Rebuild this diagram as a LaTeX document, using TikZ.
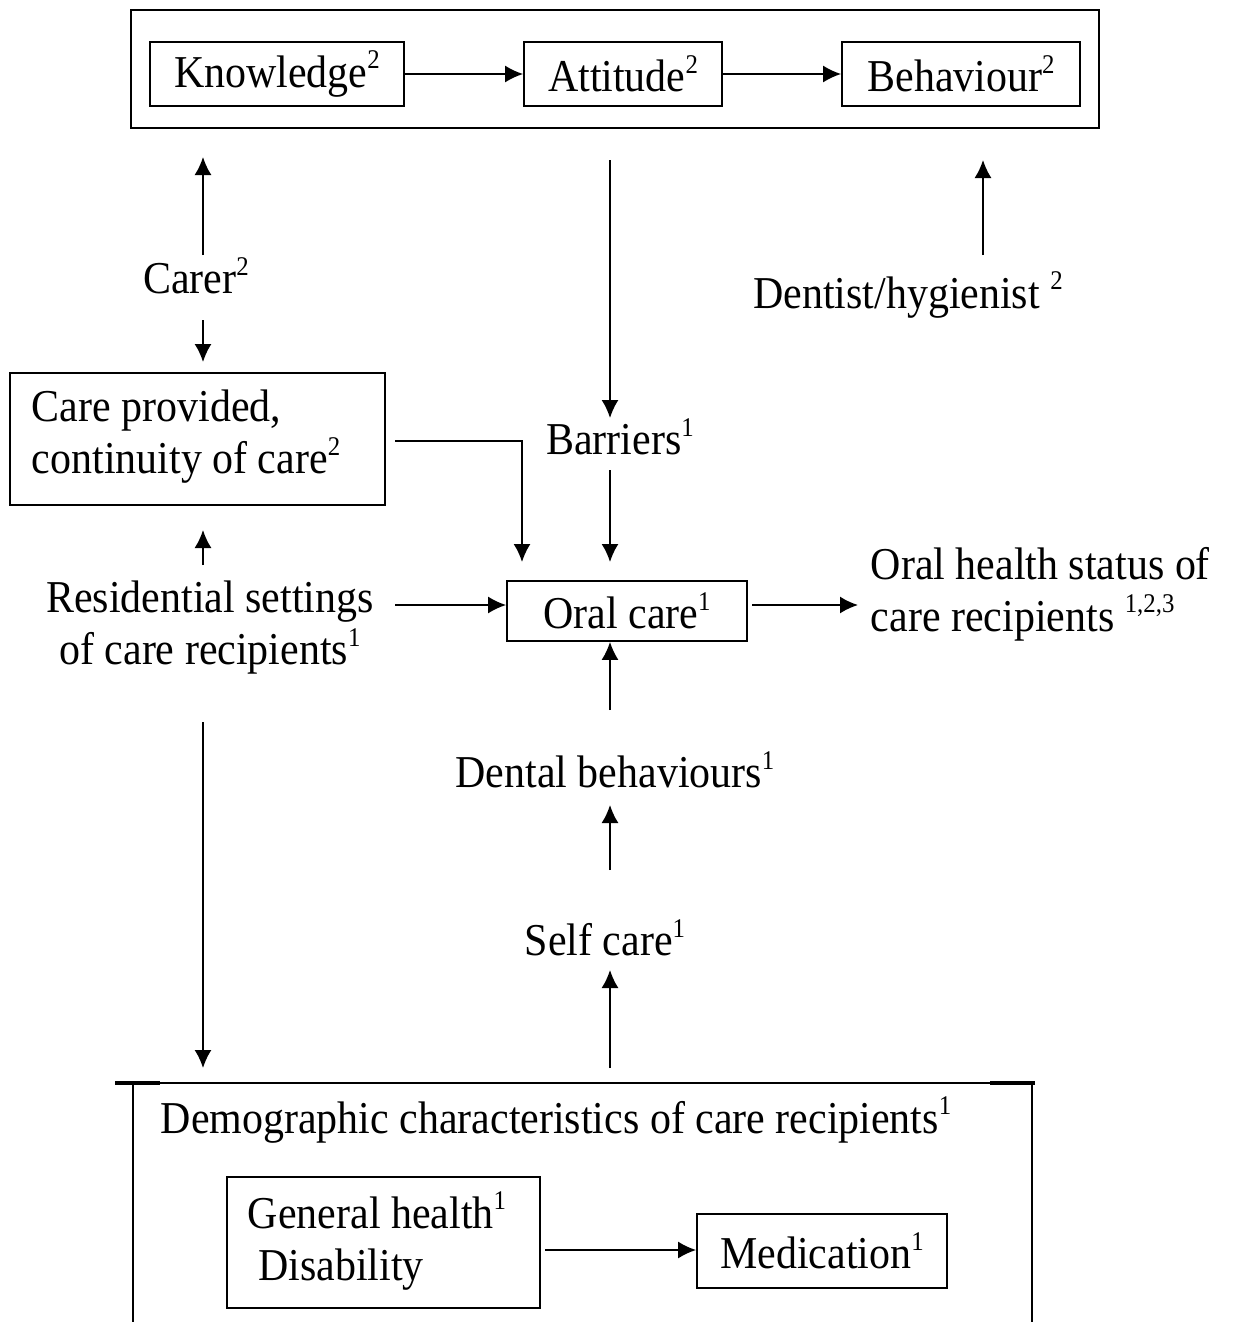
\documentclass[tikz,border=0pt]{standalone}
\usepackage{fontspec}
\setmainfont{Liberation Serif}[FakeStretch=0.92]
\usetikzlibrary{arrows.meta,calc}
\newcommand{\sx}[1]{\raisebox{0.4em}{\fontsize{13.5}{13.5}\selectfont #1}}
\begin{document}
\begin{tikzpicture}[x=0.5pt,y=-0.5pt,
  line width=0.9pt,
  txt/.style={font=\fontsize{22.8}{26}\selectfont, inner sep=0pt, align=center},
  boxed/.style={draw, line width=0.9pt, font=\fontsize{22.8}{26}\selectfont, inner sep=0pt, align=center},
  arr/.style={-{Latex[length=9pt,width=8.5pt]}, line width=0.9pt}]
\useasboundingbox (0,0) rectangle (1235,1322);
% top frame
\node[draw, minimum width=484pt, minimum height=59pt, inner sep=0pt] (topframe) at (615,69) {};
\node[boxed, minimum width=127pt, minimum height=32pt] (know) at (277,74) {Knowledge\sx{2}};
\node[boxed, minimum width=99pt, minimum height=32pt] (att) at (623,74) {Attitude\sx{2}};
\node[boxed, minimum width=119pt, minimum height=32pt] (beh) at (961,74) {Behaviour\sx{2}};
\draw[arr] (know) -- (att);
\draw[arr] (att) -- (beh);
% carer
\node[txt] (carer) at (196,276) {Carer\sx{2}};
\coordinate (carerUpS) at (203,255);
\coordinate (carerUpE) at (203,157);
\draw[arr] (carerUpS) -- (carerUpE);
\coordinate (carerDnS) at (203,320);
\coordinate (carerDnE) at (203,362);
\draw[arr] (carerDnS) -- (carerDnE);
% care provided
\node[draw, minimum width=187.5pt, minimum height=66pt, inner sep=0pt] (care) at (197.5,439) {};
\node[txt, align=left, anchor=west] (caretxt) at (31,437) {Care provided,\\continuity of care\sx{2}};
\coordinate (resUpS) at (203,565);
\coordinate (resUpE) at (203,530);
\draw[arr] (resUpS) -- (resUpE);
% residential
\node[txt] (res) at (210,628) {Residential settings\\of care recipients\sx{1}};
% oral care
\node[boxed, minimum width=120pt, minimum height=30pt] (oral) at (627,611) {Oral care\sx{1}};
\coordinate (resArrS) at (395,605);
\draw[arr] (resArrS) -- (resArrS -| oral.west);
% barriers
\node[txt] (barr) at (620,437) {Barriers\sx{1}};
\coordinate (barrS) at (610,160);
\coordinate (barrE) at (610,418);
\draw[arr] (barrS) -- (barrE);
\coordinate (barrS2) at (610,470);
\coordinate (barrE2) at (610,562);
\draw[arr] (barrS2) -- (barrE2);
% care -> oral
\coordinate (careS) at (395,441);
\coordinate (careE) at (522,562);
\draw[arr] (careS) -| (careE);
% oral health status
\coordinate (ohS) at (752,605);
\coordinate (ohE) at (858,605);
\draw[arr] (ohS) -- (ohE);
\node[txt, align=left, anchor=west] (oh) at (870,594) {Oral health status of\\care recipients \sx{1,2,3}};
% dentist
\node[txt] (dent) at (908,295) {Dentist/hygienist \sx{2}};
\coordinate (dentS) at (983,255);
\coordinate (dentE) at (983,160);
\draw[arr] (dentS) -- (dentE);
% dental behaviours
\node[txt] (dbeh) at (615,770) {Dental behaviours\sx{1}};
\coordinate (dbS) at (610,710);
\draw[arr] (dbS) -- (dbS |- oral.south);
\coordinate (scS) at (610,870);
\coordinate (scE) at (610,805);
\draw[arr] (scS) -- (scE);
\node[txt] (self) at (605,938) {Self care\sx{1}};
\coordinate (demS) at (610,1068);
\coordinate (demE) at (610,970);
\draw[arr] (demS) -- (demE);
% left long arrow
\coordinate (llS) at (203,722);
\coordinate (llE) at (203,1068);
\draw[arr] (llS) -- (llE);
% bottom frame
\coordinate (bfTL) at (115,1083);
\coordinate (bfTR) at (1035,1083);
\coordinate (bfTLe) at (160,1083);
\coordinate (bfTRe) at (990,1083);
\coordinate (bfL) at (133,1083);
\coordinate (bfLb) at (133,1322);
\coordinate (bfR) at (1032,1083);
\coordinate (bfRb) at (1032,1322);
\draw (bfTL) -- (bfTR);
\draw[line width=1.6pt] (bfTL) -- (bfTLe);
\draw[line width=1.6pt] (bfTRe) -- (bfTR);
\draw (bfL) -- (bfLb);
\draw (bfR) -- (bfRb);
\node[txt] (demo) at (556,1120) {Demographic characteristics of care recipients\sx{1}};
\node[draw, minimum width=156.5pt, minimum height=65.5pt, inner sep=0pt] (gh) at (383.5,1242.5) {};
\node[txt, align=left, anchor=west] (ghtxt) at (247,1241) {General health\sx{1}\\\ Disability};
\node[boxed, minimum width=125pt, minimum height=37pt] (med) at (822,1251) {Medication\sx{1}};
\coordinate (ghA) at (545,1250);
\draw[arr] (ghA) -- (ghA -| med.west) ;
\end{tikzpicture}
\end{document}
